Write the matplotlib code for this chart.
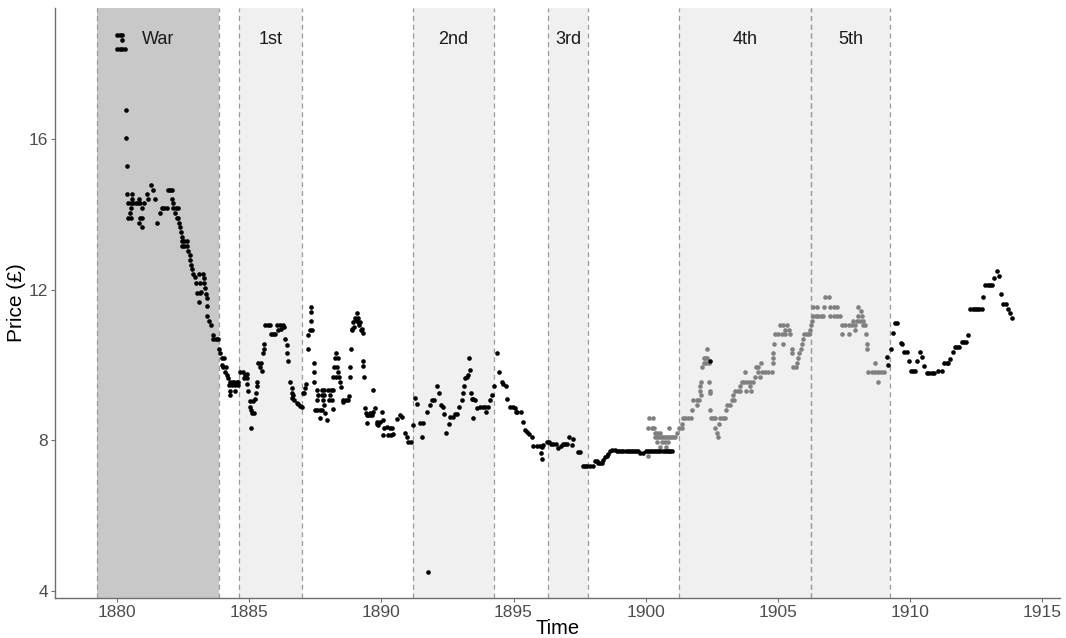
import matplotlib
matplotlib.use("Agg")
import matplotlib.pyplot as plt

plt.rcParams['font.family'] = ['Liberation Sans', 'DejaVu Sans']

# periods shaded on the chart
era_names = ["War", "1st", "2nd", "3rd", "4th", "5th"]
era_start = [1879.25, 1884.62, 1891.18, 1896.30, 1901.28, 1906.26]
era_end = [1883.84, 1887.01, 1894.28, 1897.83, 1906.26, 1909.25]

# main price series (black)
black_year = [
    1880.01, 1880.11, 1880.20, 1880.20, 1880.01, 1880.11, 1880.20, 1880.29,
    1880.34, 1880.35, 1880.37, 1880.39, 1880.56, 1880.40, 1880.52, 1880.62, 1880.71, 1880.78,
    1880.87, 1880.56, 1880.52, 1880.49, 1880.43, 1880.52, 1880.81, 1881.00, 1880.93, 1880.87,
    1880.96, 1880.84, 1880.93, 1881.12, 1881.18, 1881.28, 1881.37, 1881.45, 1881.52, 1881.63,
    1881.69, 1881.78, 1881.88, 1881.92, 1882.01, 1882.09, 1882.09, 1882.11, 1882.13, 1882.22,
    1882.32, 1882.19, 1882.26, 1882.32, 1882.36, 1882.38, 1882.41, 1882.45, 1882.45, 1882.55,
    1882.66, 1882.45, 1882.55, 1882.64, 1882.70, 1882.74, 1882.76, 1882.80, 1882.84, 1882.89,
    1882.95, 1882.99, 1883.04, 1883.14, 1883.08, 1883.24, 1883.27, 1883.30, 1883.33, 1883.37,
    1883.39, 1883.39, 1883.42, 1883.08, 1883.14, 1883.18, 1883.48, 1883.56, 1883.64, 1883.64,
    1883.73, 1883.81, 1883.86, 1883.90, 1883.96, 1884.06, 1883.96, 1884.02, 1884.11, 1884.09,
    1884.15, 1884.19, 1884.28, 1884.36, 1884.44, 1884.53, 1884.59, 1884.24, 1884.34, 1884.46,
    1884.57, 1884.28, 1884.46, 1884.28, 1884.65, 1884.78, 1884.84, 1884.93, 1884.82, 1884.91,
    1884.91, 1884.95, 1885.03, 1885.16, 1885.01, 1885.07, 1885.12, 1885.19, 1885.07, 1885.22,
    1885.25, 1885.29, 1885.29, 1885.35, 1885.44, 1885.41, 1885.48, 1885.51, 1885.57, 1885.57,
    1885.60, 1885.70, 1885.79, 1885.83, 1885.91, 1885.98, 1886.04, 1886.17, 1886.29, 1886.10,
    1886.21, 1886.33, 1886.36, 1886.42, 1886.42, 1886.48, 1886.55, 1886.61, 1886.61, 1886.67,
    1886.63, 1886.71, 1886.80, 1886.86, 1886.92, 1886.99, 1887.03, 1887.09, 1887.11, 1887.14,
    1887.22, 1887.24, 1887.30, 1887.39, 1887.34, 1887.33, 1887.34, 1887.45, 1887.46, 1887.46,
    1887.56, 1887.62, 1887.56, 1887.49, 1887.58, 1887.68, 1887.66, 1887.75, 1887.83, 1887.75,
    1887.83, 1887.78, 1887.83, 1887.77, 1887.87, 1887.93, 1887.99, 1888.09, 1888.18, 1888.06,
    1888.03, 1888.12, 1888.16, 1888.18, 1888.29, 1888.22, 1888.31, 1888.25, 1888.35, 1888.29,
    1888.37, 1888.41, 1888.44, 1888.46, 1888.56, 1888.65, 1888.75, 1888.54, 1888.78, 1888.82,
    1888.82, 1888.85, 1888.88, 1888.94, 1889.00, 1889.07, 1889.13, 1889.19, 1889.26, 1889.30,
    1888.90, 1888.97, 1889.04, 1889.13, 1889.17, 1889.22, 1889.32, 1889.32, 1889.36, 1889.38,
    1889.45, 1889.51, 1889.57, 1889.64, 1889.47, 1889.42, 1889.57, 1889.70, 1889.76, 1889.70,
    1889.85, 1889.95, 1890.05, 1890.01, 1889.83, 1889.89, 1890.11, 1890.08, 1890.20, 1890.26,
    1890.36, 1890.45, 1890.33, 1890.39, 1890.58, 1890.71, 1890.79, 1890.90, 1890.96, 1891.02,
    1891.11, 1891.21, 1891.27, 1891.36, 1891.46, 1891.59, 1891.53, 1891.77, 1891.72, 1891.84,
    1891.91, 1891.99, 1892.12, 1892.19, 1892.25, 1892.35, 1892.38, 1892.45, 1892.54, 1892.60,
    1892.70, 1892.79, 1892.88, 1892.95, 1893.04, 1893.10, 1893.13, 1893.17, 1893.23, 1893.29,
    1893.36, 1893.33, 1893.38, 1893.42, 1893.48, 1893.55, 1893.48, 1893.63, 1893.73, 1893.84,
    1893.92, 1893.96, 1894.05, 1894.11, 1894.18, 1894.26, 1894.37, 1894.45, 1894.56, 1894.62,
    1894.72, 1894.77, 1894.87, 1894.97, 1895.06, 1895.10, 1895.15, 1895.27, 1895.35, 1895.44,
    1895.50, 1895.60, 1895.69, 1895.75, 1895.88, 1896.00, 1896.07, 1896.03, 1896.07, 1896.13,
    1896.26, 1896.35, 1896.42, 1896.51, 1896.61, 1896.70, 1896.79, 1896.86, 1896.95, 1897.04,
    1897.11, 1897.20, 1897.26, 1897.45, 1897.52, 1897.62, 1897.71, 1897.79, 1897.90, 1898.00,
    1898.09, 1898.17, 1898.21, 1898.27, 1898.34, 1898.40, 1898.46, 1898.53, 1898.59, 1898.65,
    1898.74, 1898.84, 1898.92, 1899.00, 1899.08, 1899.16, 1899.24, 1899.32, 1899.40, 1899.48,
    1899.56, 1899.64, 1899.72, 1899.79, 1899.91, 1900.00, 1900.08, 1900.16, 1900.24, 1900.32,
    1900.40, 1900.48, 1900.56, 1900.64, 1900.72, 1900.80, 1900.88, 1900.94, 1900.98, 1902.44,
    1909.14, 1909.18, 1909.27, 1909.35, 1909.44, 1909.52, 1909.65, 1909.71, 1909.78, 1909.88,
    1909.95, 1910.04, 1910.13, 1910.19, 1910.28, 1910.38, 1910.44, 1910.53, 1910.64, 1910.73,
    1910.82, 1910.91, 1911.07, 1911.20, 1911.29, 1911.39, 1911.45, 1911.52, 1911.62, 1911.71,
    1911.77, 1911.87, 1911.96, 1912.05, 1912.12, 1912.19, 1912.27, 1912.37, 1912.46, 1912.54,
    1912.63, 1912.72, 1912.78, 1912.84, 1912.94, 1913.03, 1913.12, 1913.18, 1913.28, 1913.38,
    1913.45, 1913.53, 1913.64, 1913.72, 1913.79, 1913.87,
]
black_price = [
    18.76, 18.76, 18.76, 18.63, 18.38, 18.38, 18.38, 18.38,
    16.77, 16.02, 15.28, 14.54, 14.54, 14.29, 14.29, 14.29, 14.29, 14.29,
    14.29, 14.41, 14.16, 14.03, 13.91, 13.91, 14.41, 14.29, 14.16, 13.91,
    13.91, 13.78, 13.66, 14.54, 14.41, 14.78, 14.65, 14.41, 13.78, 14.03,
    14.16, 14.16, 14.16, 14.65, 14.65, 14.65, 14.41, 14.29, 14.16, 14.16,
    14.16, 14.03, 13.91, 13.91, 13.78, 13.66, 13.52, 13.41, 13.29, 13.29,
    13.29, 13.16, 13.16, 13.16, 13.03, 12.92, 12.79, 12.66, 12.54, 12.43,
    12.34, 12.17, 11.92, 11.92, 11.68, 12.42, 12.30, 12.17, 12.04, 11.90,
    11.77, 11.57, 11.30, 12.43, 12.17, 11.95, 11.18, 11.06, 10.80, 10.68,
    10.68, 10.68, 10.44, 10.31, 10.18, 10.18, 10.00, 9.96, 9.94, 9.82,
    9.74, 9.65, 9.56, 9.56, 9.56, 9.56, 9.56, 9.47, 9.47, 9.47,
    9.47, 9.32, 9.32, 9.20, 9.82, 9.82, 9.74, 9.76, 9.65, 9.65,
    9.50, 9.31, 9.05, 9.05, 8.89, 8.81, 8.72, 8.72, 8.34, 9.09,
    9.27, 9.44, 9.56, 10.06, 10.06, 9.94, 9.85, 10.31, 10.44, 10.56,
    11.06, 11.06, 11.06, 10.82, 10.82, 10.82, 11.06, 11.06, 11.06, 10.93,
    10.97, 11.02, 10.68, 10.53, 10.33, 10.11, 9.56, 9.38, 9.25, 9.20,
    9.12, 9.07, 9.00, 8.97, 8.92, 8.89, 9.25, 9.27, 9.38, 9.50,
    10.44, 10.80, 10.93, 10.93, 11.18, 11.42, 11.55, 10.06, 9.82, 9.56,
    9.34, 9.20, 9.07, 8.82, 8.82, 8.82, 8.59, 9.34, 9.34, 9.20,
    9.20, 9.07, 8.94, 8.82, 8.72, 8.54, 9.34, 9.34, 9.34, 9.20,
    9.07, 9.07, 8.83, 9.69, 9.69, 9.94, 9.94, 10.18, 10.18, 10.33,
    9.82, 9.69, 9.56, 9.42, 9.07, 9.07, 9.07, 9.01, 9.18, 9.94,
    9.69, 10.44, 10.97, 11.15, 11.24, 11.37, 11.24, 11.15, 10.97, 10.84,
    10.93, 11.02, 11.20, 11.15, 11.06, 10.93, 10.11, 9.97, 9.69, 8.85,
    8.67, 8.67, 8.67, 8.67, 8.47, 8.72, 8.73, 8.76, 8.85, 9.35,
    8.50, 8.50, 8.54, 8.76, 8.45, 8.41, 8.32, 8.14, 8.36, 8.14,
    8.14, 8.17, 8.32, 8.32, 8.56, 8.67, 8.61, 8.20, 8.10, 7.96,
    7.96, 8.41, 9.12, 8.97, 8.46, 8.46, 8.08, 4.51, 8.76, 8.94,
    9.07, 9.07, 9.44, 9.25, 8.94, 8.89, 8.69, 8.19, 8.45, 8.63,
    8.63, 8.70, 8.70, 8.89, 9.07, 9.25, 9.44, 9.65, 9.69, 9.74,
    9.87, 10.18, 9.25, 9.09, 9.09, 9.07, 8.59, 8.85, 8.89, 8.89,
    8.89, 8.76, 8.89, 9.07, 9.20, 9.44, 10.31, 9.82, 9.56, 9.50,
    9.44, 9.09, 8.89, 8.88, 8.85, 8.76, 8.76, 8.76, 8.50, 8.28,
    8.23, 8.17, 8.10, 7.85, 7.85, 7.85, 7.83, 7.66, 7.52, 7.88,
    7.95, 7.95, 7.90, 7.90, 7.90, 7.79, 7.85, 7.90, 7.90, 7.90,
    8.08, 7.88, 8.03, 7.70, 7.70, 7.33, 7.33, 7.33, 7.33, 7.33,
    7.46, 7.46, 7.39, 7.39, 7.41, 7.48, 7.55, 7.58, 7.65, 7.72,
    7.74, 7.76, 7.72, 7.72, 7.72, 7.72, 7.72, 7.72, 7.72, 7.72,
    7.72, 7.72, 7.72, 7.66, 7.66, 7.72, 7.72, 7.72, 7.72, 7.72,
    7.72, 7.72, 7.72, 7.72, 7.72, 7.72, 7.72, 7.72, 7.72, 10.11,
    10.22, 9.99, 10.42, 10.86, 11.11, 11.11, 10.59, 10.56, 10.35, 10.35,
    10.11, 9.85, 9.85, 9.85, 10.11, 10.35, 10.22, 9.97, 9.78, 9.78,
    9.78, 9.78, 9.85, 9.85, 10.05, 10.05, 10.05, 10.17, 10.35, 10.49,
    10.49, 10.49, 10.62, 10.62, 10.62, 10.80, 11.49, 11.49, 11.49, 11.49,
    11.49, 11.49, 11.81, 12.12, 12.12, 12.12, 12.12, 12.30, 12.50, 12.37,
    11.88, 11.61, 11.61, 11.49, 11.37, 11.24,
]

# second series 1900-1909 (grey)
grey_year = [
    1900.08, 1900.10, 1900.14, 1900.23, 1900.27, 1900.32, 1900.36, 1900.44, 1900.55, 1900.36,
    1900.44, 1900.52, 1900.59, 1900.67, 1900.74, 1900.82, 1900.89, 1900.97, 1901.04, 1901.12,
    1900.44, 1900.61, 1900.73, 1900.86, 1900.55, 1900.77, 1900.90, 1901.18, 1901.27, 1901.37,
    1901.37, 1901.43, 1901.49, 1901.59, 1901.71, 1901.74, 1901.81, 1901.93, 1902.03, 1901.93,
    1902.08, 1902.06, 1902.08, 1902.06, 1902.12, 1902.19, 1902.25, 1902.31, 1902.19, 1902.29,
    1902.38, 1902.31, 1902.38, 1902.42, 1902.42, 1902.44, 1902.46, 1902.56, 1902.63, 1902.63,
    1902.71, 1902.75, 1902.79, 1902.81, 1902.94, 1903.00, 1903.04, 1903.09, 1903.19, 1903.25,
    1903.34, 1903.30, 1903.38, 1903.51, 1903.57, 1903.57, 1903.64, 1903.72, 1903.83, 1903.95,
    1904.08, 1903.80, 1903.98, 1903.76, 1903.95, 1904.14, 1904.33, 1904.18, 1904.26, 1904.36,
    1904.26, 1904.39, 1904.52, 1904.64, 1904.77, 1904.81, 1904.81, 1904.83, 1904.86, 1904.90,
    1905.02, 1905.15, 1905.27, 1905.46, 1905.09, 1905.21, 1905.36, 1905.27, 1905.44, 1905.21,
    1905.53, 1905.53, 1905.59, 1905.69, 1905.74, 1905.78, 1905.82, 1905.87, 1905.91, 1905.94,
    1905.99, 1906.09, 1906.19, 1906.22, 1906.25, 1906.28, 1906.32, 1906.43, 1906.54, 1906.64,
    1906.72, 1906.35, 1906.47, 1906.75, 1906.79, 1906.92, 1906.98, 1907.11, 1907.23, 1906.98,
    1907.11, 1907.23, 1907.36, 1907.42, 1907.55, 1907.68, 1907.80, 1907.93, 1907.42, 1907.68,
    1907.93, 1907.86, 1907.99, 1908.11, 1908.24, 1908.04, 1908.14, 1908.04, 1908.17, 1908.21,
    1908.30, 1908.34, 1908.37, 1908.39, 1908.43, 1908.55, 1908.67, 1908.80, 1908.91, 1909.02,
    1908.68, 1908.81,
]
grey_price = [
    7.58, 8.34, 8.59, 8.34, 8.59, 8.34, 8.21, 8.21, 8.21, 8.08,
    8.08, 8.08, 8.08, 8.08, 8.08, 8.08, 8.08, 8.08, 8.08, 8.08,
    7.96, 7.96, 7.96, 7.96, 7.83, 7.83, 8.32, 8.21, 8.34, 8.34,
    8.45, 8.59, 8.59, 8.59, 8.59, 8.82, 9.07, 9.07, 9.07, 8.94,
    9.20, 9.44, 9.56, 9.32, 9.94, 10.18, 10.18, 10.18, 10.06, 10.06,
    10.06, 10.43, 9.56, 9.32, 9.25, 8.82, 8.59, 8.59, 8.59, 8.34,
    8.21, 8.08, 8.45, 8.59, 8.59, 8.59, 8.82, 8.94, 8.94, 9.07,
    9.07, 9.20, 9.32, 9.32, 9.32, 9.44, 9.56, 9.56, 9.56, 9.56,
    9.56, 9.32, 9.32, 9.81, 9.44, 9.69, 9.69, 9.94, 9.94, 10.06,
    9.81, 9.81, 9.81, 9.81, 9.81, 10.06, 10.19, 10.31, 10.56, 10.82,
    10.82, 10.82, 10.82, 10.82, 11.06, 11.06, 11.06, 10.93, 10.93, 10.56,
    10.44, 10.31, 9.94, 9.94, 10.06, 10.18, 10.31, 10.44, 10.56, 10.68,
    10.82, 10.82, 10.82, 10.93, 11.06, 11.18, 11.30, 11.30, 11.30, 11.30,
    11.30, 11.55, 11.55, 11.55, 11.80, 11.80, 11.55, 11.55, 11.55, 11.30,
    11.30, 11.30, 11.30, 11.06, 11.06, 11.06, 11.06, 11.06, 10.82, 10.82,
    10.93, 11.18, 11.18, 11.18, 11.18, 11.55, 11.43, 11.30, 11.30, 11.06,
    11.06, 10.82, 10.56, 10.43, 9.81, 9.81, 9.81, 9.81, 9.81, 9.81,
    10.06, 9.56,
]

fig = plt.figure(figsize=(10.66, 6.38), dpi=100)
ax = fig.add_axes([0.0516, 0.0627, 0.9428, 0.925])

for i, name in enumerate(era_names):
    fc = '#c8c8c8' if name == 'War' else '#f0f0f0'
    ax.axvspan(era_start[i], era_end[i], color=fc, lw=0, zorder=0)
    for xv in (era_start[i], era_end[i]):
        ax.axvline(xv, color='#9a9a9a', lw=0.9, ls=(0, (4, 3)), zorder=1)
    ax.text((era_start[i] + era_end[i]) / 2, 18.63, name, ha='center', va='center',
            fontsize=13, color='#1a1a1a', zorder=3)

ax.scatter(grey_year, grey_price, s=11, color='#808080', lw=0, zorder=2)
ax.scatter(black_year, black_price, s=11, color='black', lw=0, zorder=2)

ax.set_xlim(1877.65, 1915.68)
ax.set_ylim(3.82, 19.48)
ax.set_xticks([1880, 1885, 1890, 1895, 1900, 1905, 1910, 1915])
ax.set_yticks([4, 8, 12, 16])

for side in ('top', 'right'):
    ax.spines[side].set_visible(False)
for side in ('left', 'bottom'):
    ax.spines[side].set_color('#6e6e6e')
    ax.spines[side].set_linewidth(1.0)
ax.tick_params(colors='#6e6e6e', labelcolor='#4d4d4d', labelsize=12.5, length=3, width=0.8, pad=2)

ax.set_xlabel('Time', fontsize=14.5, labelpad=-1)
ax.set_ylabel('Price (£)', fontsize=15, labelpad=2)

fig.savefig('out.png', dpi=100)
